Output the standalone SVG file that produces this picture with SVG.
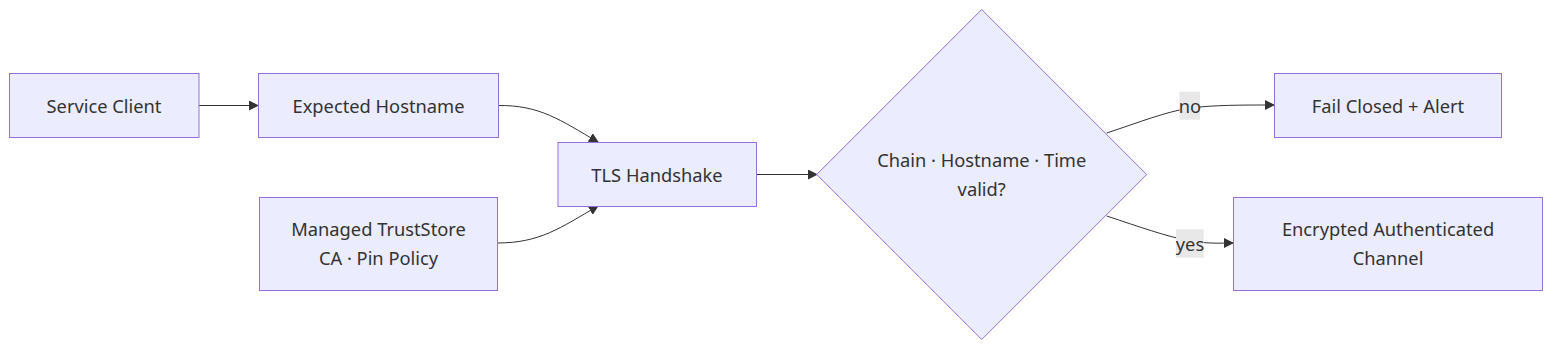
<svg xmlns="http://www.w3.org/2000/svg" width="1568" height="354" viewBox="0 0 1568 354">
<style>
.node{fill:#ECECFF;stroke:#9370DB;stroke-width:1}
.t{font-family:"Noto Sans","DejaVu Sans",sans-serif;font-size:18.3px;fill:#333;text-anchor:middle;dominant-baseline:central}
.e{fill:none;stroke:#333;stroke-width:1}
.lb{fill:#e8e8e8}
</style>
<defs>
<marker id="ah" viewBox="0 0 10 10" refX="9" refY="5" markerWidth="10" markerHeight="10" markerUnits="userSpaceOnUse" orient="auto">
<path d="M0,0 L10,5 L0,10 z" fill="#333"/>
</marker>
</defs>
<g id="edges">
<path class="e" d="M199,105.5 L258,105.5" marker-end="url(#ah)"/>
<path class="e" d="M498,105.5 C540,105 560,120 598,142" marker-end="url(#ah)"/>
<path class="e" d="M497,243 C540,243 560,228 598,206" marker-end="url(#ah)"/>
<path class="e" d="M756.5,174.5 L817,174.5" marker-end="url(#ah)"/>
<path class="e" d="M1106.7,133 C1140,122 1165,112 1190,108 C1215,105 1240,105 1274,105" marker-end="url(#ah)"/>
<path class="e" d="M1106.7,216 C1140,227 1165,236 1190,241 C1210,244 1220,243 1233,243" marker-end="url(#ah)"/>
</g>
<g id="n1"><rect class="node" x="9.5" y="73.5" width="189.5" height="64"/><text class="t" x="104" y="105">Service Client</text></g>
<g id="n2"><rect class="node" x="258.5" y="73.5" width="240" height="64"/><text class="t" x="378.5" y="105">Expected Hostname</text></g>
<g id="n3"><rect class="node" x="259.5" y="197.5" width="238" height="93"/><text class="t" x="378.5" y="228.5">Managed TrustStore</text><text class="t" x="378.5" y="257">CA · Pin Policy</text></g>
<g id="n4"><rect class="node" x="558" y="142.5" width="198.5" height="64"/><text class="t" x="657" y="174">TLS Handshake</text></g>
<g id="n5"><polygon class="node" points="981.7,9.5 1146.7,174.5 981.7,339.5 816.7,174.5"/><text class="t" x="981.7" y="159.5">Chain · Hostname · Time</text><text class="t" x="981.7" y="188">valid?</text></g>
<g id="n6"><rect class="node" x="1274.5" y="73.5" width="227" height="64"/><text class="t" x="1388" y="105">Fail Closed + Alert</text></g>
<g id="n7"><rect class="node" x="1233.5" y="197.5" width="309" height="93"/><text class="t" x="1388" y="228.5">Encrypted Authenticated</text><text class="t" x="1388" y="257">Channel</text></g>
<g id="labels">
<rect class="lb" x="1179.5" y="91.7" width="20.5" height="28"/><text class="t" x="1190" y="105">no</text>
<rect class="lb" x="1176" y="229.3" width="27.7" height="28.4"/><text class="t" x="1190" y="243">yes</text>
</g>
</svg>
